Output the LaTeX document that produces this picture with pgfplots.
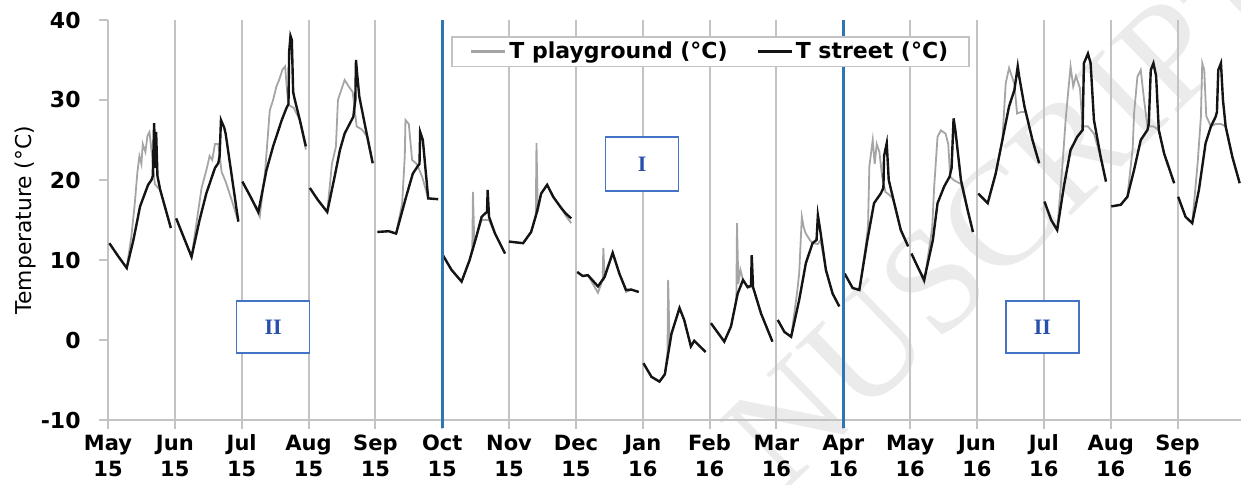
\documentclass[border=0pt]{standalone}
\usepackage{fontspec}
\setmainfont{DejaVu Sans}
\newfontfamily\serifwm{Liberation Serif}
\usepackage{pgfplots}
\pgfplotsset{compat=1.18}
\definecolor{vblue}{RGB}{46,117,182}
\definecolor{boxblue}{RGB}{68,114,196}
\definecolor{txtblue}{RGB}{40,80,170}
\definecolor{pgrey}{RGB}{165,165,165}
\definecolor{sblack}{RGB}{20,20,20}
\definecolor{axgrey}{RGB}{195,195,195}
\newcommand{\ml}[2]{\strut #1\\\strut #2}
\begin{document}
\begin{tikzpicture}
\begin{axis}[
  set layers,
  scale only axis,
  width=566.5pt, height=200pt,
  xmin=0, xmax=16.95, ymin=-10, ymax=40,
  clip=false,
  axis x line=bottom, axis y line=left,
  axis line style={-, axgrey, line width=1pt},
  xtick={0,...,16},
  xticklabels={{\ml{May}{15}},{\ml{Jun}{15}},{\ml{Jul}{15}},{\ml{Aug}{15}},{\ml{Sep}{15}},{\ml{Oct}{15}},{\ml{Nov}{15}},{\ml{Dec}{15}},{\ml{Jan}{16}},{\ml{Feb}{16}},{\ml{Mar}{16}},{\ml{Apr}{16}},{\ml{May}{16}},{\ml{Jun}{16}},{\ml{Jul}{16}},{\ml{Aug}{16}},{\ml{Sep}{16}}},
  xticklabel style={align=center, font=\bfseries\fontsize{10.5}{13}\selectfont, anchor=north, inner sep=0pt, yshift=-1.5pt},
  ytick={-10,0,10,20,30,40},
  yticklabels={-10,0,10,20,30,40},
  yticklabel style={font=\bfseries\fontsize{11}{12}\selectfont, anchor=east, inner sep=1pt, xshift=-8pt},
  tick align=outside,
  major tick length=4.5pt,
  tick style={axgrey, line width=1pt},
  xmajorgrids,
  grid style={axgrey, line width=1pt},
  every axis y label/.style={at={(axis description cs:-0.0724,0.5)}, rotate=90, anchor=center},
  ylabel={\fontsize{10.9}{12}\selectfont Temperature (°C)},
  unbounded coords=jump,
  legend columns=2,
  legend style={at={(0.532,0.921)}, anchor=center, draw=axgrey, line width=0.8pt,
    font=\bfseries\fontsize{11}{11}\selectfont, inner xsep=9pt, inner ysep=1pt,
    /tikz/every even column/.append style={column sep=13pt},
    nodes={inner sep=1.5pt}},
  legend image code/.code={\draw[#1, line width=1.1pt] (0pt,0pt) -- (17pt,0pt);},
]
\begin{pgfonlayer}{axis background}
\node[rotate=44, anchor=base west, inner sep=0pt, text=gray!16, font=\serifwm\fontsize{74}{74}\selectfont] at (axis cs:10.10,-19.2) {NUSCRIPT};
\end{pgfonlayer}
\coordinate (bbsw) at (rel axis cs:0,0);
\coordinate (bbne) at (rel axis cs:1,1);

\addplot[pgrey, line width=0.9pt] coordinates {
(0.02,12.1)(0.15,10.5)(0.28,9.0)(0.35,13)(0.40,17)(0.44,21)(0.47,23)(0.50,22)(0.52,24.5)(0.56,23.5)(0.59,25.5)(0.62,26)(0.66,23)(0.70,19.5)(0.75,19)(0.78,18.8)(0.94,14)
(0.97,nan)
(1.02,15.2)(1.25,10.4)(1.33,15)(1.40,19)(1.48,21.5)(1.52,23)(1.56,22.5)(1.60,24.5)(1.65,24.5)(1.70,21)(1.76,19.8)(1.85,17.5)(1.95,14.8)
(1.98,nan)
(2.01,19.8)(2.12,18.1)(2.27,15.4)(2.35,21)(2.42,28.7)(2.47,30)(2.52,31.7)(2.56,32.5)(2.61,33.8)(2.65,34.2)(2.68,31)(2.70,29.4)(2.78,29)(2.87,27.5)(2.96,23.8)
(2.98,nan)
(3.02,19)(3.14,17.5)(3.28,16)(3.35,22)(3.41,24.2)(3.44,30)(3.50,31.5)(3.54,32.5)(3.60,31.7)(3.66,31)(3.72,26.7)(3.80,26.3)(3.87,25.5)(3.96,22.1)
(3.98,nan)
(4.03,13.5)(4.20,13.6)(4.31,13.3)(4.40,17)(4.44,23)(4.45,27.5)(4.50,27)(4.55,22.5)(4.62,22)(4.70,20.4)(4.79,17.7)(4.94,17.6)
(4.97,nan)
(5.01,10.6)(5.14,8.75)(5.29,7.3)(5.41,10)(5.45,11.5)(5.46,18.5)(5.48,12)(5.51,12.9)(5.59,15)(5.64,15)(5.70,15)(5.79,13.3)(5.94,10.8)
(5.97,nan)
(6.00,12.3)(6.21,12.1)(6.33,13.5)(6.40,15.5)(6.41,24.6)(6.43,16)(6.48,18.3)(6.57,19.4)(6.66,17.9)(6.78,16.5)(6.85,15.5)(6.93,14.6)
(6.97,nan)
(7.02,8.5)(7.10,8.0)(7.18,8.1)(7.33,5.9)(7.40,7.5)(7.41,11.5)(7.43,7.9)(7.55,10.9)(7.65,8.3)(7.75,6.0)(7.83,6.3)(7.94,6.0)
(7.97,nan)
(8.01,-2.9)(8.13,-4.6)(8.25,-5.2)(8.33,-4.3)(8.37,-1.5)(8.38,7.5)(8.40,0)(8.43,0.8)(8.55,4.0)(8.62,2.5)(8.72,-0.8)(8.77,-0.1)(8.94,-1.5)
(8.97,nan)
(9.02,2.1)(9.22,-0.2)(9.32,1.7)(9.40,5)(9.41,14.6)(9.43,7)(9.46,8.8)(9.50,7.5)(9.57,6.6)(9.65,6.6)(9.77,3.3)(9.94,-0.2)
(9.97,nan)
(10.02,2.5)(10.12,1.0)(10.22,0.4)(10.31,6)(10.34,8.3)(10.38,15.4)(10.41,14)(10.44,13.3)(10.50,12.5)(10.54,12.1)(10.62,12)(10.66,12.5)(10.74,8.75)(10.84,5.8)(10.94,4.2)
(10.97,nan)
(11.02,8.3)(11.14,6.5)(11.24,6.25)(11.34,12)(11.37,14.2)(11.39,21.7)(11.44,25)(11.47,22)(11.50,24.5)(11.54,23.5)(11.58,20.5)(11.63,18.5)(11.68,18.2)(11.74,17.7)(11.86,13.75)(11.97,11.7)
(11.99,nan)
(12.02,10.8)(12.11,9.2)(12.21,7.2)(12.33,14)(12.36,19.2)(12.41,25.4)(12.46,26.2)(12.53,25.8)(12.57,24.5)(12.60,20.4)(12.65,20)(12.76,19.5)(12.86,16.25)(12.94,13.5)
(12.97,nan)
(13.02,18.3)(13.16,17.1)(13.28,20.8)(13.38,25)(13.43,32.1)(13.48,34)(13.52,33)(13.56,32)(13.60,28.3)(13.66,28.5)(13.73,28.5)(13.83,25)(13.93,22.1)
(13.97,nan)
(14.01,17.3)(14.11,15)(14.20,13.75)(14.28,22)(14.33,27.9)(14.40,34.2)(14.44,31.7)(14.48,33)(14.54,31.5)(14.58,26.7)(14.66,26.7)(14.75,25.8)(14.85,22.9)(14.93,19.8)
(14.97,nan)
(15.01,16.7)(15.15,16.9)(15.25,17.9)(15.33,24)(15.35,28.3)(15.40,32.9)(15.45,33.75)(15.50,30)(15.55,26.7)(15.64,26.7)(15.72,26.25)(15.80,23.3)(15.95,19.6)
(15.98,nan)
(16.01,17.9)(16.12,15.4)(16.22,14.6)(16.30,22)(16.35,27.9)(16.37,34.6)(16.40,33.75)(16.43,28)(16.50,26.7)(16.57,27)(16.65,27)(16.72,26.7)(16.82,22.9)(16.93,19.6)
};
\addlegendentry{T playground (°C)}

\addplot[sblack, line width=1.2pt] coordinates {
(0.02,12.1)(0.15,10.5)(0.28,9.0)(0.38,12.5)(0.48,16.7)(0.60,19.4)(0.65,20)(0.67,20.5)(0.69,27.1)(0.71,21.5)(0.72,26)(0.74,20.5)(0.78,18.8)(0.94,14)
(0.97,nan)
(1.02,15.2)(1.25,10.4)(1.37,15)(1.47,18.3)(1.60,21.5)(1.65,22.1)(1.67,23)(1.69,27.5)(1.74,26.5)(1.76,25.8)(1.95,14.8)
(1.98,nan)
(2.01,19.8)(2.12,18.1)(2.25,16.0)(2.37,21.2)(2.47,24.2)(2.60,27.5)(2.67,29)(2.70,29.5)(2.71,36)(2.73,38)(2.75,37.5)(2.77,31)(2.79,30.2)(2.87,27.5)(2.96,24.2)
(2.98,nan)
(3.02,19)(3.14,17.5)(3.28,16)(3.39,20.4)(3.47,23.75)(3.54,25.8)(3.62,27.1)(3.67,27.9)(3.70,30)(3.71,35)(3.73,33)(3.76,30.4)(3.87,25.8)(3.96,22.1)
(3.98,nan)
(4.03,13.5)(4.20,13.6)(4.31,13.3)(4.46,17.9)(4.56,20.8)(4.64,21.8)(4.66,22)(4.67,26)(4.71,25)(4.79,17.7)(4.94,17.6)
(4.97,nan)
(5.01,10.6)(5.14,8.75)(5.29,7.3)(5.41,10)(5.51,12.9)(5.59,15.4)(5.64,15.8)(5.67,16)(5.68,18.75)(5.70,15.4)(5.79,13.3)(5.94,10.8)
(5.97,nan)
(6.00,12.3)(6.21,12.1)(6.33,13.5)(6.41,15.8)(6.48,18.3)(6.57,19.4)(6.66,17.9)(6.78,16.5)(6.85,15.8)(6.93,15.2)
(6.97,nan)
(7.02,8.5)(7.10,8.0)(7.18,8.1)(7.33,6.7)(7.43,7.9)(7.55,10.9)(7.65,8.3)(7.75,6.25)(7.83,6.3)(7.94,6.0)
(7.97,nan)
(8.01,-2.9)(8.13,-4.6)(8.25,-5.2)(8.33,-4.3)(8.43,0.8)(8.55,4.0)(8.62,2.5)(8.72,-0.8)(8.77,-0.1)(8.94,-1.5)
(8.97,nan)
(9.02,2.1)(9.22,-0.2)(9.32,1.7)(9.42,5.8)(9.50,7.5)(9.57,6.6)(9.62,6.8)(9.63,10.6)(9.65,6.6)(9.77,3.3)(9.94,-0.2)
(9.97,nan)
(10.02,2.5)(10.12,1.0)(10.22,0.4)(10.34,5)(10.44,9.6)(10.54,12.1)(10.60,12.5)(10.62,15.6)(10.65,14)(10.74,8.75)(10.84,5.8)(10.94,4.2)
(10.97,nan)
(11.02,8.3)(11.14,6.5)(11.24,6.25)(11.36,12.5)(11.46,17.1)(11.56,18.3)(11.60,19)(11.61,23)(11.65,24.6)(11.68,20)(11.74,17.9)(11.86,13.75)(11.97,11.7)
(11.99,nan)
(12.02,10.8)(12.11,9.2)(12.21,7.5)(12.34,12.5)(12.41,17.1)(12.51,19.2)(12.59,20.4)(12.62,21.5)(12.65,27.7)(12.68,26)(12.76,20)(12.86,16.25)(12.94,13.5)
(12.97,nan)
(13.02,18.3)(13.16,17.1)(13.28,20.8)(13.38,25)(13.48,29.2)(13.56,31.25)(13.61,34.2)(13.63,33)(13.71,29.2)(13.83,25)(13.93,22.1)
(13.97,nan)
(14.01,17.3)(14.11,15)(14.20,13.75)(14.30,19.2)(14.40,23.75)(14.50,25.4)(14.58,26.25)(14.60,34.6)(14.66,35.8)(14.70,34.6)(14.75,27.5)(14.85,22.9)(14.93,19.8)
(14.97,nan)
(15.01,16.7)(15.15,16.9)(15.25,17.9)(15.35,21.25)(15.45,25)(15.55,26.25)(15.57,27)(15.60,33.75)(15.64,34.6)(15.68,33)(15.72,26.25)(15.80,23.3)(15.95,19.6)
(15.98,nan)
(16.01,17.9)(16.12,15.4)(16.22,14.6)(16.32,18.75)(16.42,24.6)(16.50,26.7)(16.57,27.9)(16.59,28.5)(16.61,33.75)(16.65,34.6)(16.68,30)(16.72,26.7)(16.82,22.9)(16.93,19.6)
};
\addlegendentry{T street (°C)}

\draw[vblue, line width=1.5pt] (axis cs:5,-11) -- (axis cs:5,40);
\draw[vblue, line width=1.5pt] (axis cs:11,-11) -- (axis cs:11,40);

\node[draw=boxblue, line width=0.8pt, minimum width=36.5pt, minimum height=26pt, inner sep=0pt, fill=white,
  text=txtblue, font=\serifwm\bfseries\fontsize{11}{11}\selectfont] at (axis cs:2.47,1.6) {II};
\node[draw=boxblue, line width=0.8pt, minimum width=36.5pt, minimum height=27pt, inner sep=0pt, fill=white,
  text=txtblue, font=\serifwm\bfseries\fontsize{11}{11}\selectfont] at (axis cs:7.99,22) {I};
\node[draw=boxblue, line width=0.8pt, minimum width=36.5pt, minimum height=26pt, inner sep=0pt, fill=white,
  text=txtblue, font=\serifwm\bfseries\fontsize{11}{11}\selectfont] at (axis cs:13.98,1.6) {II};
\end{axis}
\pgfresetboundingbox
\path ([shift={(-54pt,-32.5pt)}]bbsw) rectangle ([shift={(0pt,10pt)}]bbne);
\end{tikzpicture}
\end{document}
